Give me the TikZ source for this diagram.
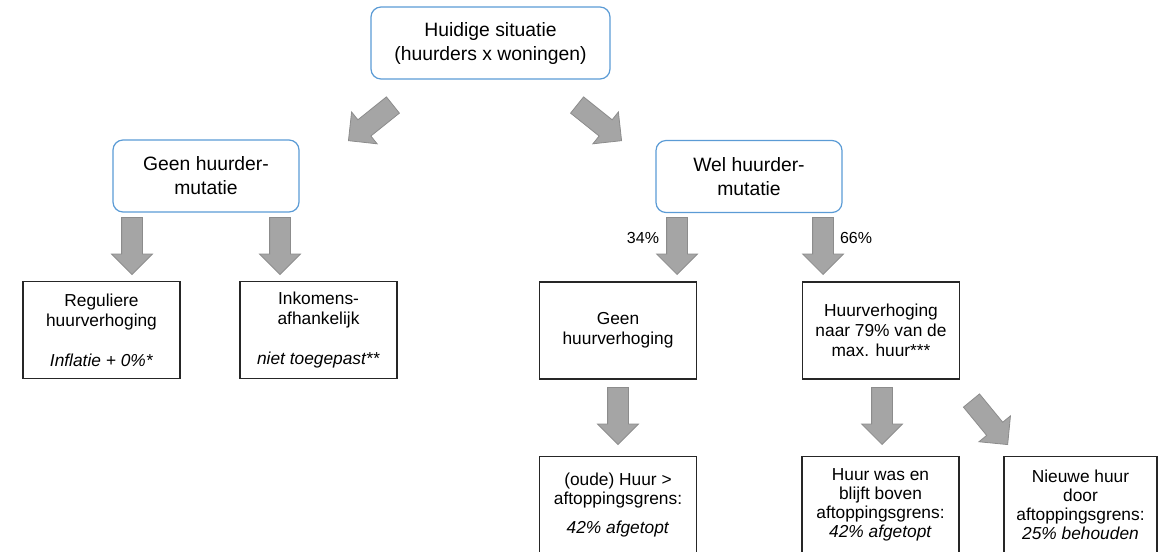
\documentclass[tikz,border=0pt]{standalone}
\usepackage{fontspec}
\setmainfont{Liberation Sans}
\usetikzlibrary{shapes.arrows}
\definecolor{BoxBlue}{HTML}{5B9BD5}
\definecolor{ArrowGrey}{HTML}{A5A5A5}
\definecolor{ArrowEdge}{HTML}{8C8C8C}
\definecolor{BoxEdge}{HTML}{262626}

\begin{document}
\begin{tikzpicture}[
    x=0.75pt, y=-0.75pt,
    sitbox/.style={draw=BoxBlue,line width=0.9pt,rounded corners=7.5pt,minimum width=139.5pt,minimum height=54pt,align=center,font=\fontsize{14.5}{18}\selectfont},
    resbox/.style={draw=BoxEdge,line width=0.9pt,minimum width=117.75pt,minimum height=72.75pt,inner sep=2pt,align=center,font=\fontsize{13}{15}\selectfont},
    endbox/.style={resbox,anchor=north,font=\fontsize{13}{14.25}\selectfont},
    blockarrow/.style={single arrow,draw=ArrowEdge,fill=ArrowGrey,line width=0.6pt,inner sep=0pt,text height=15pt,text depth=0pt,minimum height=42.75pt,single arrow head extend=7.5pt,single arrow tip angle=90,anchor=tip},
    pct/.style={font=\fontsize{12}{14}\selectfont}
  ]
  \useasboundingbox (0,0) rectangle (1159,551);
  \clip (0,0) rectangle (1159,551);

  % Huidige situatie
  \node[sitbox,minimum width=179.25pt] (huidig) at (490.5,43) {Huidige situatie\\(huurders x woningen)};
  \node[blockarrow,rotate=218.7] (arL) at (348,141) {};
  \node[blockarrow,rotate=-38.7] (arR) at (622,141) {};

  % Geen huurdermutatie
  \node[sitbox] (geen) at (206,176) {Geen huurder-\\mutatie};
  \node[blockarrow,rotate=-90] (arG1) at (132,275) {};
  \node[blockarrow,rotate=-90] (arG2) at (280,275) {};
  \node[resbox] (regulier) at (101.5,330) {Reguliere\\huurverhoging\\[15pt]\textit{Inflatie + 0\%*}};
  \node[resbox] (inkomen) at (318.5,330) {Inkomens-\\afhankelijk\\[15pt]\textit{niet toegepast**}};

  % Wel huurdermutatie
  \node[sitbox] (wel) at (749,176.5) {Wel huurder-\\mutatie};
  \node[blockarrow,rotate=-90] (arW1) at (677,275) {};
  \node[blockarrow,rotate=-90] (arW2) at (823,275) {};
  \node[pct] (p34) at (643,238) {34\%};
  \node[pct] (p66) at (856,238) {66\%};
  \node[resbox] (geenverh) at (618,330.5) {Geen\\huurverhoging};
  \node[resbox] (verh) at (881,330.5) {Huurverhoging\\naar 79\% van de\\max. huur***};

  % Aftopping
  \node[blockarrow,rotate=-90] (arO) at (618,445) {};
  \node[blockarrow,rotate=-90] (arB) at (882,445) {};
  \node[blockarrow,rotate=-50.6] (arN) at (1008,445) {};
  \node[endbox] (oude) at (618,456) {(oude) Huur >\\aftoppingsgrens:\\[8pt]\textit{42\% afgetopt}};
  \node[endbox] (blijft) at (880.5,456) {Huur was en\\blijft boven\\aftoppingsgrens:\\\textit{42\% afgetopt}};
  \node[endbox,minimum width=114.75pt] (nieuw) at (1080.5,456) {Nieuwe huur\\door\\aftoppingsgrens:\\\textit{25\% behouden}};
\end{tikzpicture}
\end{document}
